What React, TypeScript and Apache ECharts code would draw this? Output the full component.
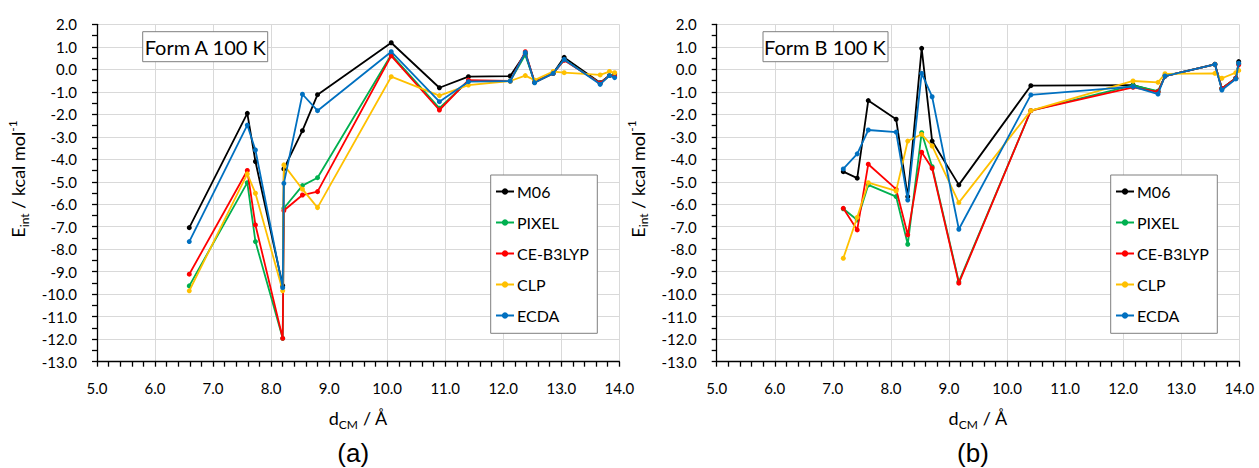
import React, { useEffect, useRef } from "react";
import * as echarts from "echarts";

// Centre-of-mass distances (Å) of the dimers in each form
const formA_d = [6.59, 7.59, 7.73, 8.2, 8.22, 8.54, 8.8, 10.07, 10.9, 11.4, 12.12, 12.38, 12.54, 12.86, 13.05, 13.67, 13.83, 13.92];
const formB_d = [7.18, 7.42, 7.61, 8.09, 8.29, 8.53, 8.71, 9.17, 10.41, 12.17, 12.6, 12.72, 13.58, 13.7, 13.94, 13.99];

// Interaction energies (kcal/mol), Form A 100 K
const formA_M06 = [-7.04, -1.96, -4.1, -9.62, -4.43, -2.73, -1.13, 1.18, -0.82, -0.33, -0.3, 0.7, -0.55, -0.18, 0.53, -0.6, -0.28, -0.21];
const formA_PIXEL = [-9.63, -5.04, -7.66, -11.96, -6.18, -5.17, -4.82, 0.65, -1.73, -0.52, -0.52, 0.64, -0.58, -0.18, 0.42, -0.62, -0.28, -0.2];
const formA_CE = [-9.11, -4.5, -6.92, -11.96, -6.28, -5.59, -5.44, 0.6, -1.81, -0.48, -0.52, 0.78, -0.58, -0.18, 0.4, -0.62, -0.28, -0.3];
const formA_CLP = [-9.85, -4.65, -5.51, -9.85, -4.25, -5.33, -6.15, -0.33, -1.17, -0.7, -0.52, -0.28, -0.48, -0.1, -0.15, -0.25, -0.1, -0.15];
const formA_ECDA = [-7.66, -2.48, -3.59, -9.71, -5.07, -1.11, -1.84, 0.78, -1.44, -0.55, -0.52, 0.75, -0.6, -0.18, 0.44, -0.67, -0.28, -0.37];

// Interaction energies (kcal/mol), Form B 100 K
const formB_M06 = [-4.55, -4.84, -1.39, -2.22, -5.66, 0.93, -3.19, -5.14, -0.73, -0.7, -1.0, -0.3, 0.22, -0.85, -0.4, 0.34];
const formB_PIXEL = [-6.2, -6.7, -5.14, -5.66, -7.78, -2.82, -4.33, -9.45, -1.84, -0.72, -0.97, -0.3, 0.22, -0.85, -0.4, 0.25];
const formB_CE = [-6.18, -7.14, -4.22, -5.33, -7.36, -3.69, -4.4, -9.51, -1.84, -0.8, -1.0, -0.3, 0.22, -0.85, -0.4, 0.2];
const formB_CLP = [-8.4, -6.58, -5.04, -5.41, -3.19, -2.89, -3.41, -5.93, -1.84, -0.52, -0.58, -0.2, -0.18, -0.4, -0.15, -0.05];
const formB_ECDA = [-4.43, -3.76, -2.7, -2.79, -5.81, -0.18, -1.22, -7.11, -1.14, -0.77, -1.1, -0.3, 0.22, -0.92, -0.43, 0.27];

const methods = ["M06", "PIXEL", "CE-B3LYP", "CLP", "ECDA"];
const methodColors = ["#000000", "#00B050", "#FF0000", "#FFC000", "#0070C0"];
const panelTitles = ["Form A 100 K", "Form B 100 K"];
const panelTags = ["(a)", "(b)"];

const FONT = 'Lato, "Noto Sans", sans-serif';
const TAG_FONT = '"Liberation Sans", Arial, sans-serif';

const GRID_TOP = 24.3;
const GRID_H = 337.4;
const grids = [
  { left: 97, width: 522.3 },
  { left: 716.7, width: 522.6 },
];

function xAxisCfg(gridIndex: number) {
  return {
    type: "value",
    gridIndex,
    min: 5,
    max: 14,
    interval: 1,
    axisLine: { show: true, onZero: false, lineStyle: { color: "#000", width: 1.3 } },
    axisTick: { show: true, inside: false, length: 5, lineStyle: { color: "#000", width: 1.3 } },
    minorTick: { show: true, splitNumber: 5, length: 5, lineStyle: { color: "#000", width: 1.3 } },
    splitLine: { show: true, lineStyle: { color: "#d9d9d9", width: 1 } },
    axisLabel: {
      formatter: (v: number) => v.toFixed(1),
      fontSize: 15,
      color: "#000",
      fontFamily: FONT,
      margin: 19,
    },
  };
}

function yAxisCfg(gridIndex: number) {
  return {
    type: "value",
    gridIndex,
    min: -13,
    max: 2,
    interval: 1,
    axisLine: { show: true, onZero: false, lineStyle: { color: "#000", width: 1.3 } },
    axisTick: { show: true, inside: false, length: 5, lineStyle: { color: "#000", width: 1.3 } },
    minorTick: { show: true, splitNumber: 2, length: 5, lineStyle: { color: "#000", width: 1.3 } },
    splitLine: { show: true, lineStyle: { color: "#d9d9d9", width: 1 } },
    axisLabel: {
      formatter: (v: number) => v.toFixed(1),
      fontSize: 15,
      color: "#000",
      fontFamily: FONT,
      margin: 20,
    },
  };
}

function buildSeries(gridIndex: number, xs: number[], sets: number[][]) {
  return sets.map((vals, k) => ({
    type: "line",
    name: methods[k],
    xAxisIndex: gridIndex,
    yAxisIndex: gridIndex,
    data: xs.map((x, i) => [x, vals[i]]),
    symbol: "circle",
    symbolSize: 5,
    showSymbol: true,
    color: methodColors[k],
    lineStyle: { color: methodColors[k], width: 1.8 },
    itemStyle: { color: methodColors[k] },
    z: 2 + k,
  }));
}

const textRich = {
  n: { fontSize: 18, fontFamily: FONT, fill: "#000", lineHeight: 24, verticalAlign: "middle" },
  s: { fontSize: 12, fontFamily: FONT, fill: "#000", lineHeight: 12, verticalAlign: "bottom" },
  p: { fontSize: 12, fontFamily: FONT, fill: "#000", lineHeight: 12, verticalAlign: "top" },
};

export default function App() {
  const ref = useRef<HTMLDivElement>(null);

  useEffect(() => {
    if (!ref.current) return;
    const chart = echarts.init(ref.current, undefined, { renderer: "svg" });

    const graphic: any[] = [];
    grids.forEach((g, i) => {
      const cx = g.left + g.width / 2;
      // panel title box
      graphic.push({
        type: "rect",
        shape: { x: g.left + 45.7 + (i === 1 ? 0.6 : 0), y: 31.7, width: 125, height: 30 },
        style: { fill: "#fff", stroke: "#7f7f7f", lineWidth: 1 },
        z: 10,
      });
      graphic.push({
        type: "text",
        x: g.left + 45.7 + 62.5,
        y: 47,
        style: { text: panelTitles[i], fontSize: 20, fontFamily: FONT, fill: "#000", align: "center", verticalAlign: "middle" },
        z: 11,
      });
      // legend frame
      graphic.push({
        type: "rect",
        shape: { x: g.left + g.width - 128.6, y: 175, width: 106.6, height: 158.3 },
        style: { fill: "#fff", stroke: "#7f7f7f", lineWidth: 1 },
        z: 10,
      });
      // x-axis title
      graphic.push({
        type: "text",
        x: cx,
        y: 418,
        style: { text: "{n|d}{s|CM}{n| / Å}", rich: textRich, align: "center", verticalAlign: "middle" },
        z: 11,
      });
      // panel tag
      graphic.push({
        type: "text",
        x: cx - 5,
        y: 453,
        style: { text: panelTags[i], fontSize: 26, fontFamily: TAG_FONT, fill: "#000", align: "center", verticalAlign: "middle" },
        z: 11,
      });
      // y-axis title
      graphic.push({
        type: "text",
        x: g.left - 79,
        y: 179,
        rotation: Math.PI / 2,
        style: { text: "{n|E}{s|int}{n| / kcal mol}{p|-1}", rich: textRich, align: "center", verticalAlign: "middle" },
        z: 11,
      });
    });

    const option: any = {
      animation: false,
      backgroundColor: "#ffffff",
      grid: grids.map((g) => ({ left: g.left, top: GRID_TOP, width: g.width, height: GRID_H, containLabel: false })),
      xAxis: [xAxisCfg(0), xAxisCfg(1)],
      yAxis: [yAxisCfg(0), yAxisCfg(1)],
      legend: grids.map((g) => ({
        data: methods,
        orient: "vertical",
        left: g.left + g.width - 124.3,
        top: 183.5,
        padding: 0,
        itemWidth: 18,
        itemHeight: 8,
        itemGap: 15,
        selectedMode: false,
        z: 12,
        textStyle: { fontSize: 16, fontFamily: FONT, color: "#000", lineHeight: 16, padding: [0, 0, 0, -2] },
      })),
      graphic,
      series: [
        ...buildSeries(0, formA_d, [formA_M06, formA_PIXEL, formA_CE, formA_CLP, formA_ECDA]),
        ...buildSeries(1, formB_d, [formB_M06, formB_PIXEL, formB_CE, formB_CLP, formB_ECDA]),
      ],
    };

    chart.setOption(option);
    return () => chart.dispose();
  }, []);

  return (
    <div
      ref={ref}
      style={{ position: "absolute", left: 0, top: 0, width: 1259, height: 468, background: "#fff" }}
    />
  );
}
